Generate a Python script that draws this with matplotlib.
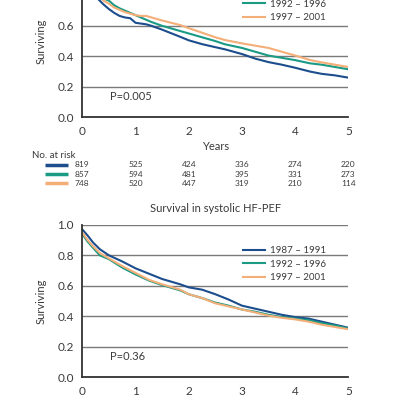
import matplotlib
matplotlib.use("Agg")
import matplotlib.pyplot as plt
import matplotlib.transforms as mtransforms

plt.rcParams['font.family'] = ['Lato', 'DejaVu Sans']

# periods and colours
periods = ["1987 \u2013 1991", "1992 \u2013 1996", "1997 \u2013 2001"]
colors = ["#1c4d8c", "#1b9a84", "#f4ae78"]

# top panel (cropped): survival
t_top = [0, 0.1, 0.2, 0.3, 0.4, 0.5, 0.6, 0.7, 0.8, 0.9, 1.0, 1.1, 1.2, 1.3,
         1.5, 1.84, 2.0, 2.25, 2.5, 2.68, 3.0, 3.25, 3.5, 3.75, 4.0, 4.28,
         4.5, 4.75, 5.0]
blue_top = [0.97, 0.88, 0.82, 0.775, 0.74, 0.71, 0.685, 0.665, 0.655, 0.65,
            0.62, 0.615, 0.61, 0.60, 0.575, 0.528, 0.505, 0.48, 0.46, 0.446,
            0.415, 0.385, 0.362, 0.345, 0.325, 0.30, 0.285, 0.275, 0.26]
teal_top = [0.96, 0.91, 0.86, 0.82, 0.78, 0.765, 0.735, 0.715, 0.70, 0.685,
            0.67, 0.655, 0.64, 0.625, 0.60, 0.566, 0.55, 0.525, 0.50, 0.479,
            0.455, 0.43, 0.405, 0.39, 0.375, 0.354, 0.345, 0.33, 0.315]
orange_top = [0.96, 0.90, 0.84, 0.80, 0.765, 0.745, 0.72, 0.705, 0.69, 0.68,
              0.67, 0.665, 0.665, 0.655, 0.635, 0.605, 0.585, 0.555, 0.525,
              0.507, 0.485, 0.47, 0.455, 0.43, 0.405, 0.376, 0.36, 0.345, 0.33]
p_top = "P=0.005"

# number at risk (top panel)
risk_years = [0, 1, 2, 3, 4, 5]
risk = [[819, 525, 424, 336, 274, 220],
        [857, 594, 481, 395, 331, 273],
        [748, 520, 447, 319, 210, 114]]

# bottom panel: systolic HF-PEF
t_bot = [0, 0.1, 0.2, 0.33, 0.5, 0.75, 1.0, 1.25, 1.5, 1.84, 2.0, 2.25, 2.5,
         2.75, 3.0, 3.25, 3.5, 3.75, 4.0, 4.25, 4.5, 4.75, 5.0]
blue_bot = [0.97, 0.93, 0.885, 0.84, 0.80, 0.76, 0.715, 0.68, 0.645, 0.61,
            0.59, 0.575, 0.545, 0.51, 0.47, 0.45, 0.43, 0.41, 0.395, 0.385,
            0.365, 0.345, 0.325]
teal_bot = [0.94, 0.89, 0.85, 0.80, 0.775, 0.72, 0.675, 0.635, 0.605, 0.57,
            0.545, 0.52, 0.49, 0.47, 0.445, 0.43, 0.41, 0.395, 0.385, 0.375,
            0.355, 0.34, 0.32]
orange_bot = [0.95, 0.90, 0.86, 0.815, 0.78, 0.73, 0.685, 0.64, 0.61, 0.575,
              0.545, 0.52, 0.485, 0.465, 0.445, 0.425, 0.405, 0.39, 0.38,
              0.365, 0.345, 0.33, 0.315]
p_bot = "P=0.36"
title_bot = "Survival in systolic HF-PEF"

yticks = [0.0, 0.2, 0.4, 0.6, 0.8, 1.0]
xticks = [0, 1, 2, 3, 4, 5]
txt = '#3a3a3a'

fig = plt.figure(figsize=(4, 4), dpi=100)
ax1 = fig.add_axes([0.2058, 0.7068, 0.665, 0.381])
ax2 = fig.add_axes([0.2058, 0.0568, 0.665, 0.381])


def style(ax, t, curves, ptext):
    for y, c, lab in zip(curves, colors, periods):
        ax.plot(t, y, color=c, lw=1.5, label=lab)
    ax.set_xlim(0, 5)
    ax.set_ylim(0, 1.0)
    ax.set_xticks(xticks)
    ax.set_yticks(yticks)
    ax.set_yticklabels([f"{v:.1f}" for v in yticks])
    ax.yaxis.grid(True, color='#7a7a7a', lw=1.0)
    ax.set_axisbelow(True)
    for s in ['top', 'right']:
        ax.spines[s].set_visible(False)
    for s in ['left', 'bottom']:
        ax.spines[s].set_color('#333333')
        ax.spines[s].set_linewidth(1.3)
    ax.tick_params(length=0, labelsize=8.5, colors=txt, pad=6)
    ax.set_ylabel("Surviving", fontsize=8, color=txt, labelpad=8)
    ax.text(0.52, 0.135, ptext, fontsize=8, color=txt, va='center')
    ax.legend(loc='upper left', bbox_to_anchor=(0.59, 0.885), frameon=False,
              fontsize=7, handlelength=2.2, handletextpad=0.6,
              labelspacing=0.45, borderaxespad=0, labelcolor=txt)


style(ax1, t_top, [blue_top, teal_top, orange_top], p_top)
style(ax2, t_bot, [blue_bot, teal_bot, orange_bot], p_bot)

ax1.set_xlabel("Years", fontsize=8, color=txt, labelpad=3)
ax2.text(0.5, 1.11, title_bot, transform=ax2.transAxes, ha='center',
         va='center', fontsize=8, color=txt)

# number at risk table
tr = mtransforms.blended_transform_factory(ax1.transData, ax1.transAxes)
ax1.text(-0.95, -0.254, "No. at risk", transform=tr, fontsize=7,
         color=txt, va='center', ha='left')
row_y = [-0.313, -0.374, -0.433]
for row, c, ry in zip(risk, colors, row_y):
    ax1.plot([-0.70, -0.27], [ry, ry], color=c, lw=2.5, transform=tr,
             clip_on=False, solid_capstyle='butt')
    for yr, n in zip(risk_years, row):
        ax1.text(yr, ry, str(n), transform=tr, fontsize=6,
                 color=txt, ha='center', va='center')

fig.savefig("out.png", dpi=100)
